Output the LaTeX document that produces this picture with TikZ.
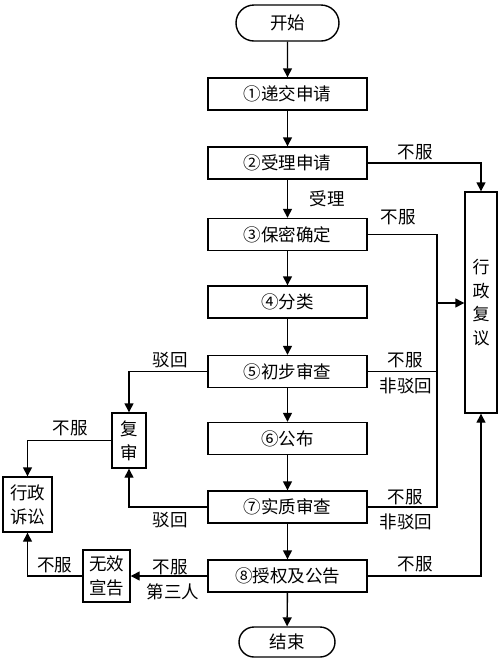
\documentclass[tikz,border=0pt]{standalone}
\usepackage{fontspec}
\setmainfont{Noto Sans CJK SC}
\usetikzlibrary{arrows.meta,shapes.misc}
\begin{document}
\begin{tikzpicture}[x=1pt,y=-1pt,
  every node/.style={font=\fontsize{17.5}{22}\selectfont},
  line/.style={line width=1.4pt,draw=black},
  arr/.style={line, -{Triangle[length=9pt,width=9pt]}},
  mainbox/.style={draw,line width=1.4pt,minimum width=159pt,minimum height=32pt,inner sep=0pt},
  sidebox/.style={draw,line width=1.4pt,inner sep=0pt,align=center},
  term/.style={draw,line width=1.4pt,rounded rectangle,inner sep=0pt},
  lbl/.style={inner sep=0pt}]
\useasboundingbox (0,0) rectangle (500,665);
\node[term,minimum width=103pt,minimum height=36pt] (start) at (287.5,23) {开始};
\node[mainbox] (b1) at (287.5,94) {①递交申请};
\node[mainbox] (b2) at (287.5,163) {②受理申请};
\node[mainbox] (b3) at (287.5,234.5) {③保密确定};
\node[mainbox] (b4) at (287.5,302) {④分类};
\node[mainbox] (b5) at (287.5,371.5) {⑤初步审查};
\node[mainbox] (b6) at (287.5,438.5) {⑥公布};
\node[mainbox] (b7) at (287.5,507) {⑦实质审查};
\node[mainbox] (b8) at (287.5,576) {⑧授权及公告};
\node[term,minimum width=96pt,minimum height=30pt] (end) at (287,642) {结束};
\node[sidebox,minimum width=32pt,minimum height=221pt,font=\fontsize{17}{23.5}\selectfont] (fy) at (481,302.5) {行\\政\\复\\议};
\node[sidebox,minimum width=34pt,minimum height=55pt,font=\fontsize{17.5}{24}\selectfont] (fs) at (129,440.5) {复\\审};
\node[sidebox,minimum width=49pt,minimum height=55pt,font=\fontsize{17.5}{24}\selectfont] (ss) at (27.5,504.5) {行政\\诉讼};
\node[sidebox,minimum width=47pt,minimum height=52pt,font=\fontsize{17.5}{24}\selectfont] (wx) at (106.5,576) {无效\\宣告};
\coordinate (j1) at (437,303);
% main flow
\draw[arr] (start) -- (b1);
\draw[arr] (b1) -- (b2);
\draw[arr] (b2) -- (b3);
\draw[arr] (b3) -- (b4);
\draw[arr] (b4) -- (b5);
\draw[arr] (b5) -- (b6);
\draw[arr] (b6) -- (b7);
\draw[arr] (b7) -- (b8);
\draw[arr] (b8) -- (end);
% right side
\draw[arr] (b2.east) -| (fy.north);
\draw[arr] (b8.east) -| (fy.south);
\draw[line] (b3.east) -| (j1);
\draw[line] (b5.east) -| (j1);
\draw[line] (b7.east) -| (j1);
\draw[arr] (j1) -- (j1 -| fy.west);
% left side
\draw[arr] (b5.west) -| (fs.north);
\draw[arr] (b7.west) -| (fs.south);
\draw[arr] (fs.west) -| (ss.north);
\draw[arr] (b8.west) -- (wx.east);
\draw[arr] (wx.west) -| (ss.south);
% labels
\node[lbl] (l1) at (415,152) {不服};
\node[lbl] (l2) at (327,199) {受理};
\node[lbl] (l3) at (398,217) {不服};
\node[lbl] (l4) at (170,360) {驳回};
\node[lbl] (l5) at (405,360) {不服};
\node[lbl] (l6) at (406,386) {非驳回};
\node[lbl] (l7) at (70,428) {不服};
\node[lbl] (l8) at (170,520) {驳回};
\node[lbl] (l9) at (405,497) {不服};
\node[lbl] (l10) at (406,522) {非驳回};
\node[lbl] (l11) at (415,564) {不服};
\node[lbl] (l12) at (170,567) {不服};
\node[lbl] (l13) at (173,592) {第三人};
\node[lbl] (l14) at (55,565) {不服};
\end{tikzpicture}
\end{document}
